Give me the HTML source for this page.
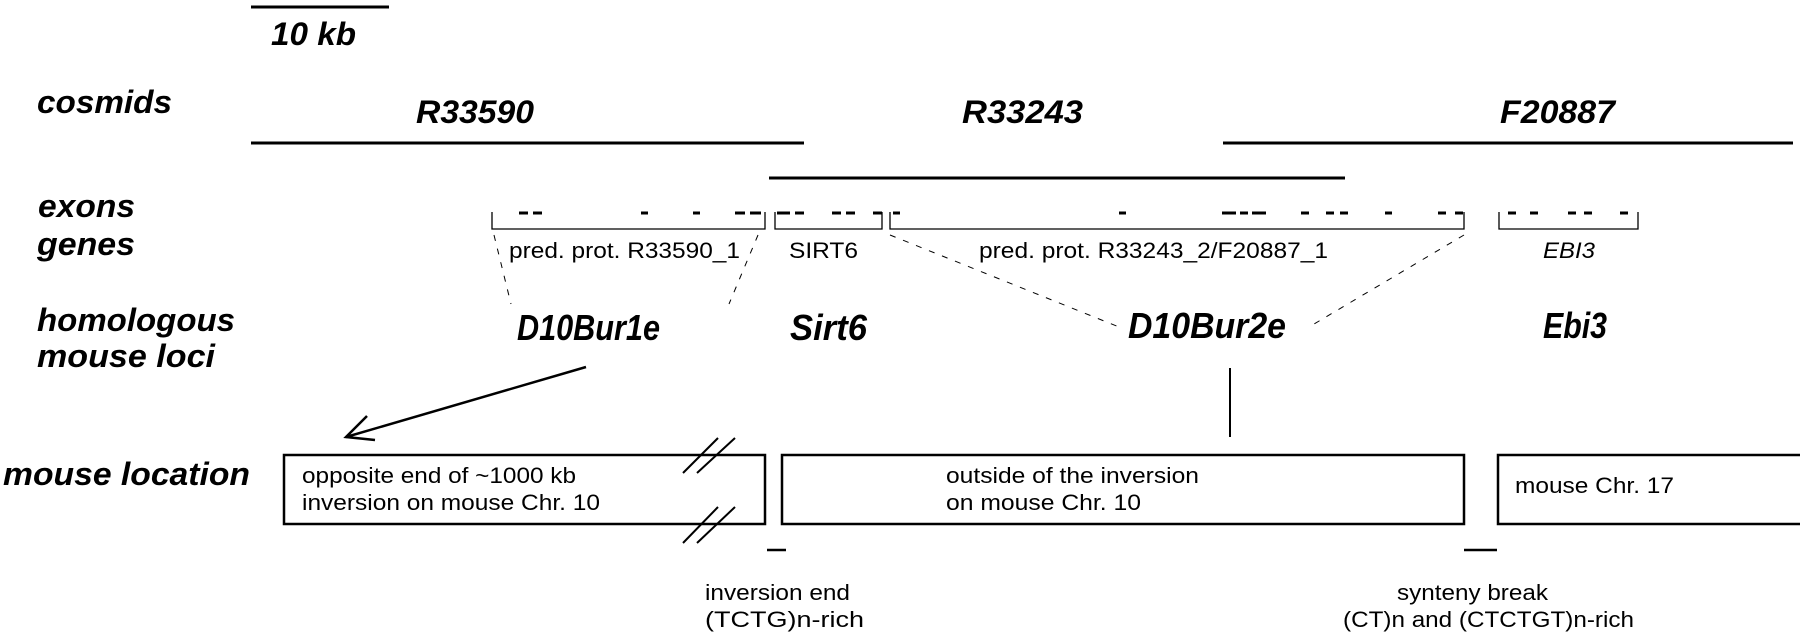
<!DOCTYPE html>
<html><head><meta charset="utf-8"><style>
html,body{margin:0;padding:0;background:#fff;}
svg{display:block;}
.L{font-family:"Liberation Sans",Arial,sans-serif;font-weight:bold;font-style:italic;font-size:32px;fill:#000;}
.B{font-family:"Liberation Sans",Arial,sans-serif;font-weight:bold;font-style:italic;font-size:36px;fill:#000;}
.s{font-family:"Liberation Sans",Arial,sans-serif;font-size:22px;fill:#000;}
.si{font-family:"Liberation Sans",Arial,sans-serif;font-style:italic;font-size:22px;fill:#000;}
</style></head><body>
<svg width="1800" height="633" viewBox="0 0 1800 633" xmlns="http://www.w3.org/2000/svg">
<g stroke="#000" fill="none">
<line x1="251" y1="7" x2="389" y2="7" stroke-width="3"/>
<line x1="251" y1="143" x2="804" y2="143" stroke-width="3"/>
<line x1="769" y1="178" x2="1345" y2="178" stroke-width="3"/>
<line x1="1223" y1="143" x2="1793" y2="143" stroke-width="3"/>
<g stroke-width="1.3">
<polyline points="492,212 492,229 765,229 765,212"/>
<polyline points="775,212 775,229 882,229 882,212"/>
<polyline points="890,212 890,229 1464,229 1464,212"/>
<polyline points="1499,212 1499,229 1638,229 1638,212"/>
</g>
<g stroke-width="3">
<line x1="519" y1="213" x2="528" y2="213"/><line x1="533" y1="213" x2="542" y2="213"/>
<line x1="641" y1="213" x2="648" y2="213"/><line x1="693" y1="213" x2="700" y2="213"/>
<line x1="735" y1="213" x2="745" y2="213"/><line x1="750" y1="213" x2="761" y2="213"/>
<line x1="777" y1="213" x2="784" y2="213"/><line x1="781" y1="213" x2="790" y2="213"/><line x1="795" y1="213" x2="804" y2="213"/>
<line x1="832" y1="213" x2="841" y2="213"/><line x1="846" y1="213" x2="855" y2="213"/><line x1="873" y1="213" x2="882" y2="213"/>
<line x1="893" y1="213" x2="900" y2="213"/><line x1="1119" y1="213" x2="1126" y2="213"/>
<line x1="1222" y1="213" x2="1236" y2="213"/><line x1="1240" y1="213" x2="1248" y2="213"/><line x1="1252" y1="213" x2="1266" y2="213"/>
<line x1="1301" y1="213" x2="1309" y2="213"/><line x1="1326" y1="213" x2="1334" y2="213"/><line x1="1340" y1="213" x2="1348" y2="213"/>
<line x1="1385" y1="213" x2="1392" y2="213"/><line x1="1438" y1="213" x2="1446" y2="213"/><line x1="1455" y1="213" x2="1463" y2="213"/>
<line x1="1508" y1="213" x2="1516" y2="213"/><line x1="1530" y1="213" x2="1538" y2="213"/>
<line x1="1568" y1="213" x2="1576" y2="213"/><line x1="1584" y1="213" x2="1592" y2="213"/><line x1="1620" y1="213" x2="1628" y2="213"/>
</g>
<g stroke-width="1" stroke-dasharray="6,8">
<line x1="494" y1="235" x2="511" y2="304"/>
<line x1="758" y1="235" x2="729" y2="304"/>
<line x1="890" y1="235" x2="1119" y2="327"/>
<line x1="1464" y1="235" x2="1309" y2="327"/>
</g>
<line x1="586" y1="367" x2="346" y2="437" stroke-width="2.5"/>
<polyline points="367,416 346,437 375,440" stroke-width="2.5"/>
<line x1="1230" y1="368" x2="1230" y2="437" stroke-width="2"/>
<g stroke-width="2.5">
<rect x="284" y="455" width="481" height="69"/>
<rect x="782" y="455" width="682" height="69"/>
<polyline points="1800,455 1498,455 1498,524 1800,524"/>
</g>
<g stroke-width="2">
<line x1="683" y1="473" x2="718" y2="438"/><line x1="697" y1="473" x2="735" y2="438"/>
<line x1="683" y1="543" x2="718" y2="507"/><line x1="697" y1="543" x2="735" y2="507"/>
</g>
<g stroke-width="2.5">
<line x1="767" y1="550" x2="786" y2="550"/>
<line x1="1464" y1="550" x2="1497" y2="550"/>
</g>
</g>
<text class="L" x="271" y="45" textLength="85" lengthAdjust="spacingAndGlyphs">10 kb</text>
<text class="L" x="37" y="113" textLength="135" lengthAdjust="spacingAndGlyphs">cosmids</text>
<text class="L" x="416" y="123" textLength="118" lengthAdjust="spacingAndGlyphs">R33590</text>
<text class="L" x="962" y="123" textLength="121" lengthAdjust="spacingAndGlyphs">R33243</text>
<text class="L" x="1500" y="123" textLength="115" lengthAdjust="spacingAndGlyphs">F20887</text>
<text class="L" x="38" y="217" textLength="97" lengthAdjust="spacingAndGlyphs">exons</text>
<text class="L" x="37" y="255" textLength="98" lengthAdjust="spacingAndGlyphs">genes</text>
<text class="L" x="37" y="331" textLength="198" lengthAdjust="spacingAndGlyphs">homologous</text>
<text class="L" x="37" y="367" textLength="178" lengthAdjust="spacingAndGlyphs">mouse loci</text>
<text class="L" x="3" y="485" textLength="247" lengthAdjust="spacingAndGlyphs">mouse location</text>
<text class="s" x="509" y="258" textLength="231" lengthAdjust="spacingAndGlyphs">pred. prot. R33590_1</text>
<text class="s" x="789" y="258" textLength="69" lengthAdjust="spacingAndGlyphs">SIRT6</text>
<text class="s" x="979" y="258" textLength="349" lengthAdjust="spacingAndGlyphs">pred. prot. R33243_2/F20887_1</text>
<text class="si" x="1543" y="258" textLength="52" lengthAdjust="spacingAndGlyphs">EBI3</text>
<text class="B" x="517" y="340" textLength="143" lengthAdjust="spacingAndGlyphs">D10Bur1e</text>
<text class="B" x="790" y="340" textLength="77" lengthAdjust="spacingAndGlyphs">Sirt6</text>
<text class="B" x="1128" y="338" textLength="158" lengthAdjust="spacingAndGlyphs">D10Bur2e</text>
<text class="B" x="1543" y="338" textLength="64" lengthAdjust="spacingAndGlyphs">Ebi3</text>
<text class="s" x="302" y="483" textLength="274" lengthAdjust="spacingAndGlyphs">opposite end of ~1000 kb</text>
<text class="s" x="302" y="510" textLength="298" lengthAdjust="spacingAndGlyphs">inversion on mouse Chr. 10</text>
<text class="s" x="946" y="483" textLength="253" lengthAdjust="spacingAndGlyphs">outside of the inversion</text>
<text class="s" x="946" y="510" textLength="195" lengthAdjust="spacingAndGlyphs">on mouse Chr. 10</text>
<text class="s" x="1515" y="493" textLength="159" lengthAdjust="spacingAndGlyphs">mouse Chr. 17</text>
<text class="s" x="705" y="600" textLength="145" lengthAdjust="spacingAndGlyphs">inversion end</text>
<text class="s" x="705" y="627" textLength="159" lengthAdjust="spacingAndGlyphs">(TCTG)n-rich</text>
<text class="s" x="1397" y="600" textLength="151" lengthAdjust="spacingAndGlyphs">synteny break</text>
<text class="s" x="1343" y="627" textLength="291" lengthAdjust="spacingAndGlyphs">(CT)n and (CTCTGT)n-rich</text>
</svg>
</body></html>
